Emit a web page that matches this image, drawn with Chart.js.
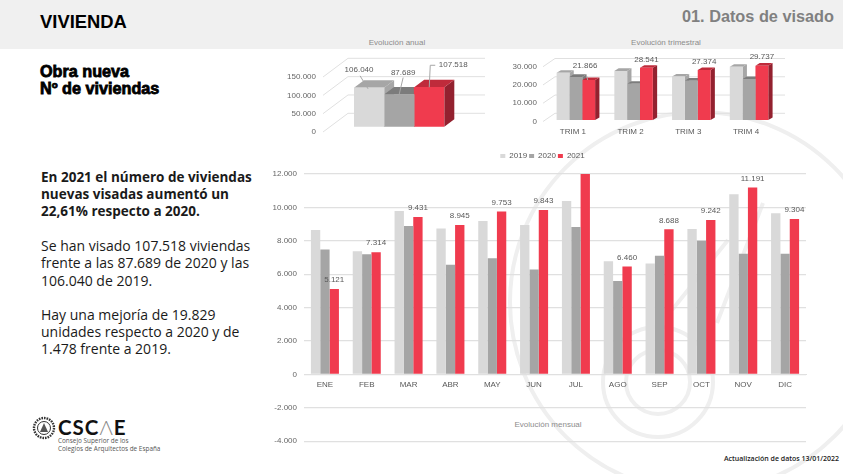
<!DOCTYPE html>
<html lang="es">
<head>
<meta charset="utf-8">
<title>Vivienda - Datos de visado</title>
<script src="https://cdn.jsdelivr.net/npm/chart.js@4/dist/chart.umd.min.js"></script>
<style>
  html, body { margin: 0; padding: 0; background: #fff; }
  #page { position: relative; width: 843px; height: 474px; overflow: hidden; font-family: "Liberation Sans", Arial, sans-serif; }
  #band { position: absolute; left: 0; top: 0; width: 843px; height: 49px; background: #f0f0f0; }
  #mark { position: absolute; left: 0; top: 0; }
  canvas { position: absolute; }
  .abs { position: absolute; white-space: nowrap; }
  .chart-title { font-size: 8px; color: #8c8c8c; transform: translateX(-50%); line-height: 10px; }
  #h1 { left: 40px; top: 11px; font-size: 18.4px; line-height: 21px; font-weight: bold; color: #000; }
  #h2 { right: 9px; top: 7px; font-size: 16.3px; line-height: 19px; font-weight: bold; color: #808080; }
  #sub { left: 40px; top: 63px; font-size: 16.2px; line-height: 17px; font-weight: bold; color: #000; -webkit-text-stroke: 0.8px #000; }
  #copy { left: 41px; top: 168.5px; font-family: "Open Sans", sans-serif; font-size: 14px; line-height: 17.2px; color: #1a1a1a; }
  #copy p { margin: 0 0 17.2px 0; height: 51.6px; }
  #copy p.lead { font-weight: 700; font-size: 13.5px; }
  #updated { right: 4px; top: 454px; font-family: "Open Sans", sans-serif; font-size: 7px; line-height: 10px; font-weight: 600; color: #222; }
  #logo-name { left: 58px; top: 416px; font-family: "Lato", sans-serif; font-size: 20.5px; line-height: 22px; font-weight: 700; letter-spacing: 1px; color: #111; }
  #logo-name span { color: #8a8a8a; font-weight: 300; }
  #logo-text { left: 58px; top: 437px; font-family: "Open Sans", sans-serif; font-size: 6.4px; line-height: 8px; color: #555; }
</style>
</head>
<body>
<div id="page">
  <div id="band"></div>
  <svg id="mark" width="843" height="474" fill="none" stroke="#efefef" stroke-width="4">
    <circle cx="700" cy="302" r="190"/>
    <circle cx="658" cy="382" r="55"/>
    <circle cx="658" cy="382" r="32"/>
    <path d="M763 203 L717 323 M728 240 L672 310"/>
  </svg>

  <div class="abs" id="h1">VIVIENDA</div>
  <div class="abs" id="h2">01. Datos de visado</div>
  <div class="abs" id="sub">Obra nueva<br>Nº de viviendas</div>

  <div class="abs" id="copy">
    <p class="lead">En 2021 el número de viviendas<br>nuevas visadas aumentó un<br>22,61% respecto a 2020.</p>
    <p>Se han visado 107.518 viviendas<br>frente a las 87.689 de 2020 y las<br>106.040 de 2019.</p>
    <p>Hay una mejoría de 19.829<br>unidades respecto a 2020 y de<br>1.478 frente a 2019.</p>
  </div>

  <div class="abs chart-title" style="left:397px;top:38px">Evolución anual</div>
  <div class="abs chart-title" style="left:666px;top:38px">Evolución trimestral</div>
  <div class="abs chart-title" style="left:548px;top:420px">Evolución mensual</div>

  <canvas id="chart-annual" style="left:270px;top:50px" width="225" height="95"></canvas>
  <canvas id="chart-quarter" style="left:510px;top:50px" width="290" height="95"></canvas>
  <canvas id="chart-monthly" style="left:270px;top:145px" width="546" height="308"></canvas>

  <svg class="abs" style="left:32px;top:416px" width="24" height="24" fill="none" stroke="#333">
    <circle cx="12" cy="12" r="10" stroke-width="2.4" stroke-dasharray="1.6 1"/>
    <circle cx="12" cy="12" r="6.5" stroke-width="1"/>
    <path d="M12 7 L16 16 H8 Z" fill="#555" stroke="none"/>
  </svg>
  <div class="abs" id="logo-name">CSC<span>Λ</span>E</div>
  <div class="abs" id="logo-text">Consejo Superior de los<br>Colegios de Arquitectos de España</div>
  <div class="abs" id="updated">Actualización de datos 13/01/2022</div>
</div>

<script>
'use strict';

const years = ['2019', '2020', '2021'];

const annualValues = [106040, 87689, 107518];

const quarters   = ['TRIM 1', 'TRIM 2', 'TRIM 3', 'TRIM 4'];
const quarter2019 = [25800, 26860, 23790, 29130];
const quarter2020 = [23560, 19810, 21520, 22450];
const quarter2021 = [21866, 28541, 27374, 29737];

const months = ['ENE','FEB','MAR','ABR','MAY','JUN','JUL','AGO','SEP','OCT','NOV','DIC'];
const month2019 = [8650, 7370, 9780, 8730, 9180, 8950, 10380, 6770, 6640, 8700, 10780, 9650];
const month2020 = [7480, 7200, 8880, 6570, 6960, 6280, 8820, 5600, 7100, 8000, 7230, 7220];
const month2021 = [5121, 7314, 9431, 8945, 9753, 9843, 12226, 6460, 8688, 9242, 11191, 9304];

const FRONT = ['#d9d9d9', '#a5a5a5', '#f03b4e'];
const TOP   = ['#a6a6a6', '#7c7c7c', '#bf2b3b'];
const SIDE  = ['#a6a6a6', '#7c7c7c', '#93212f'];

const FONT_FAMILY = '"Liberation Sans", Arial, sans-serif';
const TEXT_COLOR  = '#595959';
const GRID_COLOR  = '#e0e0e0';

Chart.defaults.font.family = FONT_FAMILY;
Chart.defaults.font.size = 8;
Chart.defaults.color = TEXT_COLOR;
Chart.defaults.animation = false;
Chart.defaults.responsive = false;

function fmt(n) {
  const s = String(Math.abs(n)).replace(/\B(?=(\d{3})+$)/g, '.');
  return n < 0 ? '-' + s : s;
}

// y axis of the small charts: kept alive for its ticks, drawn by frame3d
const hiddenY = (max, stepSize) => ({
  min: 0,
  max,
  grid: { display: false, drawTicks: false },
  border: { display: false },
  ticks: { display: false, stepSize },
  afterFit: axis => { axis.width = 0; },
});

// ── 3D look for the two small charts: wall, floor ticks, bar depth ──
const frame3d = {
  id: 'frame3d',
  beforeDatasetsDraw(chart, args, opts) {
    const { ctx, scales } = chart;
    ctx.save();

    // wall gridlines + diagonal floor ticks + value labels (canvas coords)
    ctx.strokeStyle = GRID_COLOR;
    ctx.lineWidth = 1;
    ctx.font = `8px ${FONT_FAMILY}`;
    ctx.textAlign = 'right';
    ctx.textBaseline = 'middle';
    scales.y.ticks.forEach(tick => {
      const p = scales.y.getPixelForValue(tick.value);
      ctx.beginPath();
      ctx.moveTo(opts.frontX, p + opts.frontY);
      ctx.lineTo(opts.wallX, p + opts.wallY);
      ctx.lineTo(opts.wallEnd, p + opts.wallY);
      ctx.stroke();
      ctx.fillStyle = '#666';
      ctx.fillText(fmt(tick.value), opts.labelX, p + opts.frontY);
    });

    // top and side faces, left to right so that fronts cover what they should
    const bars = [];
    chart.data.datasets.forEach((ds, di) => {
      chart.getDatasetMeta(di).data.forEach(el => bars.push({ el, di }));
    });
    bars.sort((a, b) => a.el.x - b.el.x);
    const dx = opts.depthX, dy = opts.depthY;
    bars.forEach(({ el, di }) => {
      const l = el.x - el.width / 2, r = el.x + el.width / 2;
      ctx.fillStyle = SIDE[di];
      ctx.beginPath();
      ctx.moveTo(r, el.y);
      ctx.lineTo(r + dx, el.y - dy);
      ctx.lineTo(r + dx, el.base - dy);
      ctx.lineTo(r, el.base);
      ctx.closePath();
      ctx.fill();
      ctx.fillStyle = TOP[di];
      ctx.beginPath();
      ctx.moveTo(l, el.y);
      ctx.lineTo(l + dx, el.y - dy);
      ctx.lineTo(r + dx, el.y - dy);
      ctx.lineTo(r, el.y);
      ctx.closePath();
      ctx.fill();
    });
    ctx.restore();
  },
};

// ── Data labels, optional leader lines ──────────────────────────
const valueLabels = {
  id: 'valueLabels',
  afterDatasetsDraw(chart, args, opts) {
    const { ctx } = chart;
    ctx.save();
    ctx.font = `8px ${FONT_FAMILY}`;
    ctx.fillStyle = TEXT_COLOR;
    ctx.textAlign = 'center';
    ctx.textBaseline = 'middle';
    opts.items.forEach(item => {
      const el = chart.getDatasetMeta(item.dataset).data[item.index];
      const value = chart.data.datasets[item.dataset].data[item.index];
      if (value > chart.scales.y.max) return;
      if (item.leader) {
        ctx.strokeStyle = '#a6a6a6';
        ctx.lineWidth = 1;
        ctx.beginPath();
        item.leader.forEach(([ox, oy], i) => {
          if (i === 0) ctx.moveTo(el.x + ox, el.y + oy);
          else ctx.lineTo(el.x + ox, el.y + oy);
        });
        ctx.stroke();
      }
      ctx.fillText(fmt(value), el.x + item.dx, el.y + item.dy);
    });
    ctx.restore();
  },
};

// room under the legend, and the legend nudged over the plot's centre
const legendTweak = {
  id: 'legendTweak',
  beforeInit(chart) {
    const legend = chart.legend;
    const fit = legend.fit;
    const draw = legend.draw;
    legend.fit = function () {
      fit.call(this);
      this.height += 4;
    };
    legend.draw = function () {
      chart.ctx.save();
      chart.ctx.translate(4.5, 0);
      draw.call(this);
      chart.ctx.restore();
    };
  },
};

function seriesDatasets(valuesBySeries) {
  return years.map((year, i) => ({
    label: year,
    data: valuesBySeries[i],
    backgroundColor: FRONT[i],
    borderWidth: 0,
    barPercentage: 1,
  }));
}

// ── Annual ──────────────────────────────────────────────────────
new Chart(document.getElementById('chart-annual'), {
  type: 'bar',
  data: {
    labels: ['2019-2021'],
    datasets: seriesDatasets([[annualValues[0]], [annualValues[1]], [annualValues[2]]])
      .map(ds => ({ ...ds, categoryPercentage: 1 })),
  },
  options: {
    layout: { padding: { left: 84, right: 50.7, top: 21.7, bottom: 18.3 } },
    plugins: {
      legend: { display: false },
      tooltip: { enabled: false },
      frame3d: { frontX: 53, wallX: 78, wallEnd: 215, frontY: 5.3, wallY: -13.4, labelX: 46, depthX: 10, depthY: 7.5 },
      valueLabels: {
        items: [
          { dataset: 0, index: 0, dx: -10, dy: -18, leader: [[-9, -12], [-1, 1]] },
          { dataset: 1, index: 0, dx: 4, dy: -22, leader: [[4, -17], [0, 0]] },
          { dataset: 2, index: 0, dx: 24, dy: -22, leader: [[6, -22], [1, -22], [0, 0]] },
        ],
      },
    },
    scales: {
      x: { display: false },
      y: hiddenY(150000, 50000),
    },
  },
  plugins: [frame3d, valueLabels],
});

// ── Quarterly ───────────────────────────────────────────────────
new Chart(document.getElementById('chart-quarter'), {
  type: 'bar',
  data: {
    labels: quarters,
    datasets: seriesDatasets([quarter2019, quarter2020, quarter2021])
      .map(ds => ({ ...ds, categoryPercentage: 0.667 })),
  },
  options: {
    layout: { padding: { left: 37, right: 22.1, top: 15.2, bottom: 0 } },
    plugins: {
      legend: { display: false },
      tooltip: { enabled: false },
      frame3d: { frontX: 33, wallX: 45, wallEnd: 275, frontY: 1.5, wallY: -6.7, labelX: 27, depthX: 4.3, depthY: 2.6 },
      valueLabels: {
        items: [
          { dataset: 2, index: 0, dx: -3.6, dy: -14, leader: [[-2, -4], [-1, 0]] },
          { dataset: 2, index: 1, dx: 0, dy: -8.5 },
          { dataset: 2, index: 2, dx: 0, dy: -8.5 },
          { dataset: 2, index: 3, dx: 0, dy: -8.5 },
        ],
      },
    },
    scales: {
      x: {
        grid: { display: false, drawTicks: false },
        border: { display: false },
        ticks: { padding: 7, labelOffset: -3, maxRotation: 0 },
        afterFit: axis => { axis.height = 25; },
      },
      y: hiddenY(30000, 10000),
    },
  },
  plugins: [frame3d, valueLabels],
});

// ── Monthly ─────────────────────────────────────────────────────
new Chart(document.getElementById('chart-monthly'), {
  type: 'bar',
  data: {
    labels: months,
    datasets: seriesDatasets([month2019, month2020, month2021])
      .map(ds => ({ ...ds, categoryPercentage: 0.67 })),
  },
  options: {
    layout: { padding: { left: 0, right: 10, top: 5, bottom: 3 } },
    plugins: {
      legend: {
        position: 'top',
        labels: { boxWidth: 5, boxHeight: 4, padding: 2, color: TEXT_COLOR, font: { size: 8 } },
      },
      tooltip: { enabled: false },
      valueLabels: {
        items: month2021.map((v, index) => ({ dataset: 2, index, dx: 0, dy: -9 })),
      },
    },
    scales: {
      x: {
        position: { y: 0 },
        grid: { display: false, drawTicks: false },
        border: { color: GRID_COLOR, width: 1 },
        ticks: { padding: 6, maxRotation: 0, color: TEXT_COLOR },
      },
      y: {
        min: -4000,
        max: 12000,
        grid: { color: GRID_COLOR, lineWidth: 1.2, drawTicks: false },
        border: { display: false },
        ticks: { stepSize: 2000, padding: 7, color: '#666', callback: v => fmt(v) },
        afterFit: axis => { axis.width = 34; },
      },
    },
  },
  plugins: [legendTweak, valueLabels],
});
</script>
</body>
</html>
